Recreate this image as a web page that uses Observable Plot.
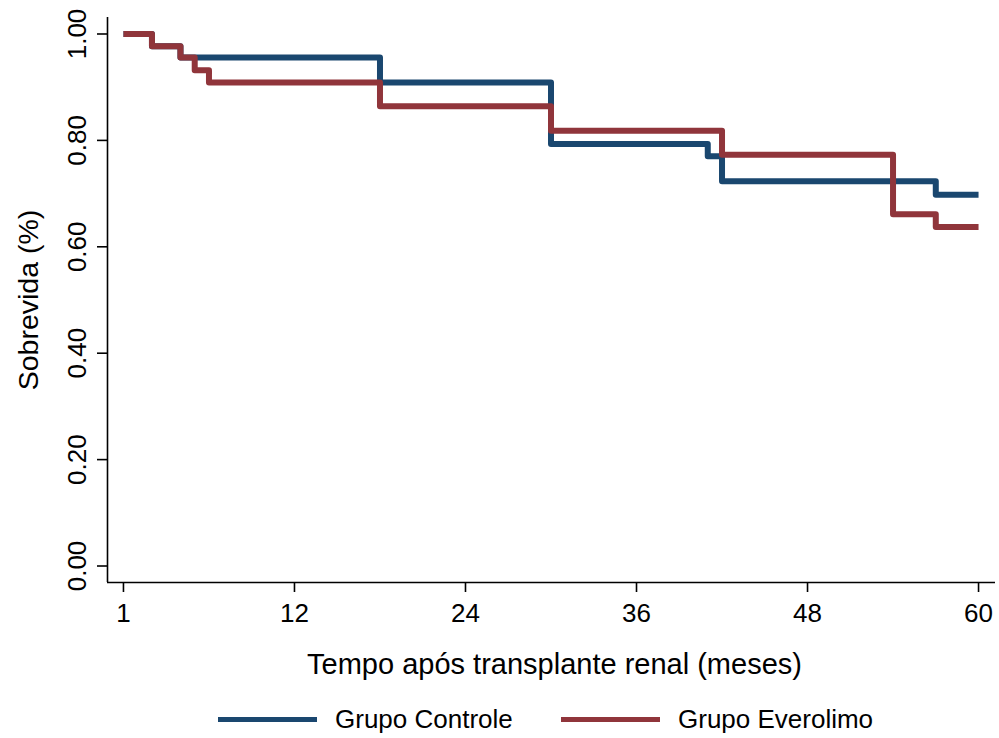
<!DOCTYPE html>
<html>
<head>
<meta charset="utf-8">
<script src="https://cdn.jsdelivr.net/npm/d3@7"></script>
<script src="https://cdn.jsdelivr.net/npm/@observablehq/plot@0.6"></script>
<style>
  html, body { margin: 0; padding: 0; background: #fff; }
  body { width: 999px; height: 738px; overflow: hidden; font-family: "Liberation Sans", Arial, Helvetica, sans-serif; }
  #legend { position: relative; height: 38px; width: 999px; }
  #legend .item { position: absolute; top: 0; height: 38px; display: flex; align-items: center; font-size: 26px; color: #000; }
  #legend .sw { width: 99px; height: 5px; margin-right: 18px; }
</style>
</head>
<body>
<div id="chart"></div>
<div id="legend"></div>
<script>
// ---- data ----
const groups = ["Grupo Controle", "Grupo Everolimo"];
const colors = ["#1a476f", "#90353b"];

const controleTime = [0, 2, 4, 18, 30, 41, 42, 57, 60];
const controleSurv = [1.000, 0.977, 0.956, 0.909, 0.793, 0.770, 0.723, 0.698, 0.698];

const everolimoTime = [0, 2, 4, 5, 6, 18, 30, 42, 54, 57, 60];
const everolimoSurv = [1.000, 0.977, 0.956, 0.932, 0.909, 0.864, 0.818, 0.773, 0.661, 0.637, 0.637];

const xTicks = [0, 12, 24, 36, 48, 60];
const xTickLabels = ["1", "12", "24", "36", "48", "60"];
const yTicks = [0, 0.2, 0.4, 0.6, 0.8, 1.0];
const yTickLabels = ["0.00", "0.20", "0.40", "0.60", "0.80", "1.00"];

const xTitle = "Tempo após transplante renal (meses)";
const yTitle = "Sobrevida (%)";

const xDomain = [-1.12, 61.19];
const yDomain = [-0.031, 1.031];

// ---- build table ----
const rows = [];
controleTime.forEach((t, i) => rows.push({group: groups[0], t, s: controleSurv[i]}));
everolimoTime.forEach((t, i) => rows.push({group: groups[1], t, s: everolimoSurv[i]}));

const font = "'Liberation Sans', Arial, Helvetica, sans-serif";

const chart = Plot.plot({
  width: 999,
  height: 700,
  marginLeft: 107,
  marginRight: 4,
  marginTop: 17,
  marginBottom: 118,
  style: {fontFamily: font, background: "#fff", color: "#000"},
  x: {domain: xDomain, axis: null},
  y: {domain: yDomain, axis: null},
  color: {domain: groups, range: colors},
  marks: [
    // axis lines
    Plot.ruleX([xDomain[0]], {stroke: "#000", strokeWidth: 1.6}),
    Plot.ruleY([yDomain[0]], {stroke: "#000", strokeWidth: 1.6}),
    // x ticks + labels
    Plot.axisX(xTicks, {
      tickSize: 10, tickPadding: 11, strokeWidth: 1.6, fontSize: 26,
      tickFormat: (d) => xTickLabels[xTicks.indexOf(d)], label: null
    }),
    // y ticks
    Plot.axisY(yTicks, {tickSize: 10, strokeWidth: 1.6, tickFormat: () => "", label: null}),
    // y tick labels (rotated)
    Plot.text(yTicks, {
      y: d => d, text: (d, i) => yTickLabels[i], frameAnchor: "left",
      dx: -22, rotate: -90, textAnchor: "middle", lineAnchor: "bottom", fontSize: 26
    }),
    // survival curves
    Plot.line(rows, {
      x: "t", y: "s", z: "group", stroke: "group", curve: "step-after",
      strokeWidth: 6, strokeLinejoin: "round", strokeLinecap: "butt"
    }),
    // titles
    Plot.text([xTitle], {frameAnchor: "bottom", dx: 3, dy: 91, textAnchor: "middle", lineAnchor: "bottom", fontSize: 29}),
    Plot.text([yTitle], {frameAnchor: "left", dx: -70, rotate: -90, textAnchor: "middle", lineAnchor: "bottom", fontSize: 28.5})
  ]
});
document.getElementById("chart").appendChild(chart);

// ---- legend ----
const legend = document.getElementById("legend");
const lefts = [218, 561];
groups.forEach((g, i) => {
  const item = document.createElement("div");
  item.className = "item";
  item.style.left = lefts[i] + "px";
  const sw = document.createElement("div");
  sw.className = "sw";
  sw.style.background = colors[i];
  const lab = document.createElement("span");
  lab.textContent = g;
  item.appendChild(sw);
  item.appendChild(lab);
  legend.appendChild(item);
});
</script>
</body>
</html>
